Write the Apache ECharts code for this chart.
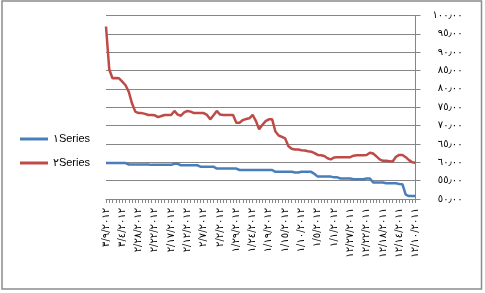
<!DOCTYPE html>
<html><head><meta charset="utf-8">
<script src="https://cdn.jsdelivr.net/npm/echarts@6/dist/echarts.min.js"></script>
<style>html,body{margin:0;padding:0;background:#fff}#c{width:485px;height:293px}</style>
</head><body><div id="c"></div>
<script>
// Visible date labels (every 5th category), as displayed
const dateLabels = ['٣/٩/٢٠١٢','٣/٤/٢٠١٢','٢/٢٨/٢٠١٢','٢/٢٢/٢٠١٢','٢/١٧/٢٠١٢','٢/١٢/٢٠١٢','٢/٧/٢٠١٢','٢/٢/٢٠١٢','١/٢٩/٢٠١٢','١/٢٤/٢٠١٢','١/١٩/٢٠١٢','١/١٥/٢٠١٢','١/١٠/٢٠١٢','١/٥/٢٠١٢','١/١/٢٠١٢','١٢/٢٧/٢٠١١','١٢/٢٢/٢٠١١','١٢/١٨/٢٠١١','١٢/١٤/٢٠١١','١٢/١٠/٢٠١١'];
const seriesNames = ['١Series','٢Series'];
const series1 = [59.8,59.8,59.8,59.8,59.8,59.8,59.8,59.4,59.4,59.4,59.4,59.4,59.4,59.4,59.3,59.3,59.3,59.3,59.3,59.3,59.3,59.6,59.6,59.2,59.2,59.2,59.2,59.2,59.2,58.8,58.8,58.8,58.8,58.8,58.3,58.3,58.3,58.3,58.3,58.3,58.3,57.9,57.9,57.9,57.9,57.9,57.9,57.9,57.9,57.9,57.9,57.9,57.4,57.4,57.4,57.4,57.4,57.4,57.2,57.2,57.4,57.4,57.4,57.4,56.8,56.1,56.1,56.1,56.1,56.1,55.9,55.9,55.6,55.6,55.6,55.6,55.4,55.4,55.4,55.4,55.6,55.6,54.5,54.5,54.5,54.5,54.3,54.3,54.3,54.3,54.1,54.0,51.2,50.8,50.8,50.8];
const series2 = [97.0,85.3,82.9,83.0,82.9,82.0,81.0,79.2,76.0,73.8,73.4,73.4,73.2,72.9,72.9,72.8,72.3,72.6,72.9,72.9,72.9,74.0,73.0,72.7,73.6,74.0,73.8,73.4,73.4,73.4,73.4,72.9,71.7,72.8,74.0,73.0,72.9,72.9,72.9,72.9,70.8,70.8,71.5,71.8,72.0,72.9,71.3,69.0,70.2,71.2,71.7,71.7,68.4,67.3,66.9,66.5,64.4,63.7,63.5,63.5,63.3,63.2,63.0,62.9,62.5,62.0,61.9,61.7,61.1,60.8,61.3,61.4,61.4,61.4,61.4,61.4,61.8,61.9,61.9,61.9,62.0,62.6,62.4,61.6,60.8,60.4,60.4,60.3,60.2,61.5,62.0,62.0,61.4,60.6,60.0,59.9];
const yTickValues = [50,55,60,65,70,75,80,85,90,95,100];
const yTickLabels = ['٥٠٫٠٠','٥٥٫٠٠','٦٠٫٠٠','٦٥٫٠٠','٧٠٫٠٠','٧٥٫٠٠','٨٠٫٠٠','٨٥٫٠٠','٩٠٫٠٠','٩٥٫٠٠','١٠٠٫٠٠'];

const categories = series1.map((v, i) => (i % 5 === 0 ? dateLabels[i / 5] : ''));
const gray = '#868686';
const chart = echarts.init(document.getElementById('c'), null, {renderer: 'canvas'});
chart.setOption({
  animation: false,
  backgroundColor: '#fff',
  graphic: [{
    type: 'rect', shape: {x: 2, y: 1, width: 479.5, height: 288}, silent: true,
    style: {fill: 'none', stroke: '#8c8c8c', lineWidth: 1.5}
  }],
  legend: {
    orient: 'vertical', left: 15, top: 127,
    itemWidth: 28, itemHeight: 3, itemGap: 10,
    icon: 'rect',
    data: seriesNames,
    textStyle: {fontFamily: 'Liberation Sans, DejaVu Sans', fontSize: 11, color: '#000', lineHeight: 14}
  },
  grid: {left: 106, right: 69.5, top: 15.5, bottom: 94, containLabel: false},
  xAxis: {
    type: 'category', data: categories, boundaryGap: false,
    axisLine: {show: true, lineStyle: {color: gray, width: 1}},
    axisTick: {show: true, interval: 0, length: 4, lineStyle: {color: gray}},
    axisLabel: {interval: 4, rotate: 90, margin: 9, fontFamily: 'DejaVu Sans', fontSize: 10, color: '#000'},
    splitLine: {show: false}
  },
  yAxis: {
    type: 'value', position: 'right', min: 50, max: 100, interval: 5,
    axisLine: {show: true, lineStyle: {color: gray, width: 1}},
    axisTick: {show: true, length: 5, lineStyle: {color: gray}},
    axisLabel: {
      margin: 47, align: 'right', fontFamily: 'DejaVu Sans', fontSize: 10, color: '#000',
      formatter: v => yTickLabels[yTickValues.indexOf(Math.round(v))] || ''
    },
    splitLine: {show: true, lineStyle: {color: gray, width: 1}}
  },
  series: [
    {name: seriesNames[0], type: 'line', data: series1, symbol: 'none', color: '#4A7EBB',
     lineStyle: {width: 2.5, color: '#4A7EBB'}},
    {name: seriesNames[1], type: 'line', data: series2, symbol: 'none', color: '#BE4B48',
     lineStyle: {width: 2.5, color: '#BE4B48'}}
  ]
});
</script>
</body></html>
